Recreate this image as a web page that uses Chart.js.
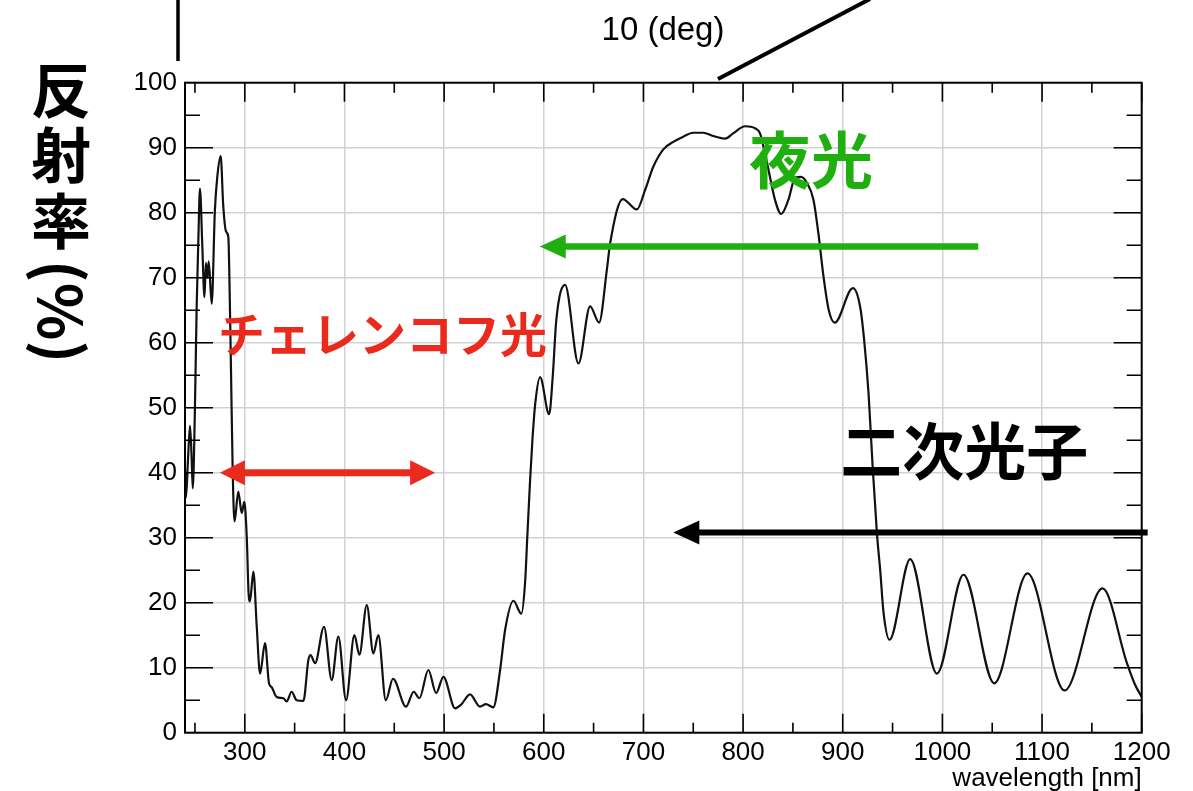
<!DOCTYPE html>
<html>
<head>
<meta charset="utf-8">
<title>反射率 vs wavelength</title>
<script src="https://cdn.jsdelivr.net/npm/chart.js@4.4.1/dist/chart.umd.min.js"></script>
<style>
  html, body { margin: 0; padding: 0; background: #fff; }
  #wrap { width: 1193px; height: 791px; position: relative; }
</style>
</head>
<body>
<div id="wrap"><canvas id="c" width="1193" height="791"></canvas></div>
<script>
// Measured reflectance curve: wavelength (nm) and reflectance (%)
const wavelengthNm = [
  240, 241, 243, 245, 246.5, 247.8, 250, 251.7, 253.4, 255,
  257.4, 259.5, 261, 262.5, 263.8, 266.8, 270, 272.4, 275.8, 278.4,
  281.2, 283.5, 285.2, 286.2, 287.9, 289.7, 293.5, 296.9, 299.5, 302,
  303.8, 305.2, 308.6, 312, 315.3, 320.3, 324.3, 327, 332, 338.8,
  342, 347, 352, 358.8, 363.8, 366, 370.5, 379.5, 387.2, 393.9,
  401.6, 410, 415, 422.4, 429, 434, 441.5, 448.7, 461.8, 469.5,
  475.2, 484.2, 492, 499.3, 511, 517, 526, 536, 542, 549.4,
  556.2, 561.2, 569.5, 577.5, 581.3, 583.5, 586.3, 588.6, 591.5, 596.3,
  605.4, 609, 612.6, 621.4, 634.8, 646.5, 655.5, 663.3, 666.6, 679.3,
  693.4, 701.7, 710, 720, 730, 740, 750, 760, 770, 782,
  790, 802, 812, 817, 822, 827, 832, 838.2, 845.5, 852.3,
  858, 864, 870.6, 875.6, 880.7, 886, 892, 910.2, 917.5, 921.5,
  925.9, 930, 934.3, 937.6, 941, 946.9, 967.7, 994.5, 1021.2, 1052,
  1085.4, 1122.6, 1160.7, 1185.2, 1193, 1200
];
const reflectancePct = [
  40.5, 36.2, 42, 47.2, 43, 37.6, 50.2, 65.5, 75.8, 83.7,
  74.8, 67, 72.3, 70, 72.5, 66, 80.4, 85.5, 88.7, 81,
  77.1, 76.2, 64.5, 55.3, 40, 32.5, 37.1, 33.8, 35.5, 30,
  21.5, 20.2, 24.8, 16.3, 9.1, 13.8, 7.6, 7, 5.5, 5.3,
  4.8, 6.3, 5.0, 4.9, 11.2, 11.95, 10.7, 16.3, 8.1, 14.8,
  5.0, 15.0, 12.0, 19.65, 12.2, 15.0, 5.0, 8.3, 4.0, 6.3,
  5.3, 9.65, 6.1, 8.6, 3.75, 4.3, 5.9, 4.0, 4.4, 3.9,
  9.65, 15.8, 20.3, 18.3, 23.2, 30.2, 38.9, 45, 50.7, 54.7,
  49.0, 54.8, 63.5, 68.9, 56.8, 65.6, 63.1, 71.2, 75.3, 82.1,
  80.5, 83.5, 87.1, 89.75, 90.9, 91.7, 92.3, 92.3, 91.8, 91.4,
  92.2, 93.3, 93.0, 92.2, 89.1, 85.5, 82, 79.8, 82, 85.4,
  85.5, 84.6, 82, 76.8, 70.2, 65, 63.1, 68.4, 65.5, 60.4,
  52.2, 41, 30.7, 25, 18.4, 14.3, 26.7, 9.1, 24.3, 7.6,
  24.5, 6.5, 22.2, 10.7, 7.5, 5.5
];

// Axis ranges and tick labels
const xRange = [240, 1200];
const yRange = [0, 100];
const xTickValues = [300, 400, 500, 600, 700, 800, 900, 1000, 1100, 1200];
const yTickValues = [0, 10, 20, 30, 40, 50, 60, 70, 80, 90, 100];
const xMinorStep = 50;
const yMinorStep = 5;

// Annotation texts
const yTitleChars = ['反', '射', '率'];
const yTitleUnit = '(%)';
const xTitle = 'wavelength [nm]';
const angleLabel = '10 (deg)';
const cherenkovLabel = 'チェレンコフ光';
const nightglowLabel = '夜光';
const secondaryLabel = '二次光子';

const RED = '#ea2a1c';
const GREEN = '#1fb00f';
const LATIN = "'Liberation Sans', Arial, Helvetica, sans-serif";
const CJK = "'Noto Sans CJK JP', 'Noto Sans CJK SC', sans-serif";

function drawArrow(ctx, xTip, xTail, py, color, width, headLen, headHalf, both) {
  ctx.save();
  ctx.strokeStyle = color;
  ctx.fillStyle = color;
  ctx.lineWidth = width;
  const dir = xTail > xTip ? 1 : -1;
  ctx.beginPath();
  ctx.moveTo(xTip + dir * headLen * 0.8, py);
  ctx.lineTo(both ? xTail - dir * headLen * 0.8 : xTail, py);
  ctx.stroke();
  const head = (tx, d) => {
    ctx.beginPath();
    ctx.moveTo(tx, py);
    ctx.lineTo(tx + d * headLen, py - headHalf);
    ctx.lineTo(tx + d * headLen, py + headHalf);
    ctx.closePath();
    ctx.fill();
  };
  head(xTip, dir);
  if (both) head(xTail, -dir);
  ctx.restore();
}

const overlay = {
  id: 'overlay',
  afterDatasetsDraw(chart) {
    const { ctx, chartArea: a, scales: { x, y } } = chart;
    ctx.save();

    // frame round the plot area
    ctx.strokeStyle = '#000';
    ctx.lineWidth = 2;
    ctx.strokeRect(a.left, a.top, a.right - a.left, a.bottom - a.top);

    // inward tick marks on all four sides
    ctx.lineWidth = 1.6;
    ctx.beginPath();
    for (let v = xRange[0] + 10; v <= xRange[1]; v += xMinorStep) {
      const px = x.getPixelForValue(v);
      const len = xTickValues.includes(v) ? 19 : 10;
      ctx.moveTo(px, a.bottom); ctx.lineTo(px, a.bottom - len);
      ctx.moveTo(px, a.top); ctx.lineTo(px, a.top + len);
    }
    for (let v = yRange[0] + yMinorStep; v < yRange[1]; v += yMinorStep) {
      const py = y.getPixelForValue(v);
      const len = yTickValues.includes(v) ? 28 : 15;
      ctx.moveTo(a.left, py); ctx.lineTo(a.left + len, py);
      ctx.moveTo(a.right, py); ctx.lineTo(a.right - len, py);
    }
    ctx.stroke();

    // arrows
    drawArrow(ctx, x.getPixelForValue(275), x.getPixelForValue(491), y.getPixelForValue(40), RED, 7, 25, 12.5, true);
    drawArrow(ctx, x.getPixelForValue(596), x.getPixelForValue(1036), y.getPixelForValue(74.8), GREEN, 6.5, 26, 12, false);
    drawArrow(ctx, x.getPixelForValue(730), x.getPixelForValue(1206), y.getPixelForValue(30.8), '#000', 6, 26, 12, false);

    // region labels
    ctx.textBaseline = 'middle';
    ctx.textAlign = 'left';
    ctx.fillStyle = RED;
    ctx.font = `bold 47px ${CJK}`;
    ctx.fillText(cherenkovLabel, x.getPixelForValue(273), y.getPixelForValue(61.3));
    ctx.fillStyle = GREEN;
    ctx.font = `bold 62px ${CJK}`;
    ctx.fillText(nightglowLabel, x.getPixelForValue(806), y.getPixelForValue(88.1));
    ctx.fillStyle = '#000';
    ctx.font = `bold 62px ${CJK}`;
    ctx.fillText(secondaryLabel, x.getPixelForValue(897.5), y.getPixelForValue(43.2));
    ctx.restore();
  },
  afterDraw(chart) {
    const { ctx } = chart;
    ctx.save();
    // vertical axis title, stacked characters
    ctx.fillStyle = '#000';
    ctx.textAlign = 'center';
    ctx.textBaseline = 'middle';
    ctx.font = `bold 60px ${CJK}`;
    const cx = 61;
    yTitleChars.forEach((ch, i) => ctx.fillText(ch, cx, 90 + i * 65.5));
    ctx.save();
    ctx.translate(cx, 260);
    ctx.rotate(Math.PI / 2);
    ctx.textAlign = 'left';
    ctx.fillText(yTitleUnit, 0, 0);
    ctx.restore();

    // lines above the plot
    ctx.strokeStyle = '#000';
    ctx.lineWidth = 3.5;
    ctx.beginPath();
    ctx.moveTo(178, 0); ctx.lineTo(178, 61);
    ctx.stroke();
    ctx.lineWidth = 4;
    ctx.beginPath();
    ctx.moveTo(718, 79); ctx.lineTo(870, -1);
    ctx.stroke();

    ctx.font = `33px ${LATIN}`;
    ctx.textAlign = 'center';
    ctx.fillText(angleLabel, 663, 31);
    ctx.restore();
  }
};

const points = wavelengthNm.map((w, i) => ({ x: w, y: reflectancePct[i] }));

new Chart(document.getElementById('c'), {
  type: 'line',
  data: {
    datasets: [{
      data: points,
      borderColor: '#111',
      borderWidth: 2.2,
      pointRadius: 0,
      cubicInterpolationMode: 'monotone',
      fill: false
    }]
  },
  options: {
    responsive: false,
    animation: false,
    devicePixelRatio: 1,
    layout: { padding: { top: 82.7, right: 51.3, left: 0, bottom: 0 } },
    plugins: { legend: { display: false }, tooltip: { enabled: false } },
    scales: {
      x: {
        type: 'linear',
        min: xRange[0],
        max: xRange[1],
        afterBuildTicks: s => { s.ticks = xTickValues.map(v => ({ value: v })); },
        afterFit: s => { s.height = 58.3; },
        grid: { color: '#d2d2d2', lineWidth: 1.5, drawTicks: false },
        border: { display: false },
        ticks: {
          color: '#000',
          font: { family: LATIN, size: 26 },
          padding: 5,
          maxRotation: 0,
          autoSkip: false,
          callback: v => String(v)
        },
        title: {
          display: true,
          text: xTitle,
          align: 'end',
          color: '#000',
          font: { family: LATIN, size: 26 },
          padding: { top: 0, bottom: -3 }
        }
      },
      y: {
        min: yRange[0],
        max: yRange[1],
        afterBuildTicks: s => { s.ticks = yTickValues.map(v => ({ value: v })); },
        afterFit: s => { s.width = 185; },
        grid: { color: '#d2d2d2', lineWidth: 1.5, drawTicks: false },
        border: { display: false },
        ticks: {
          color: '#000',
          font: { family: LATIN, size: 26 },
          padding: 8,
          autoSkip: false,
          callback: v => String(v)
        }
      }
    }
  },
  plugins: [overlay]
});
</script>
</body>
</html>
